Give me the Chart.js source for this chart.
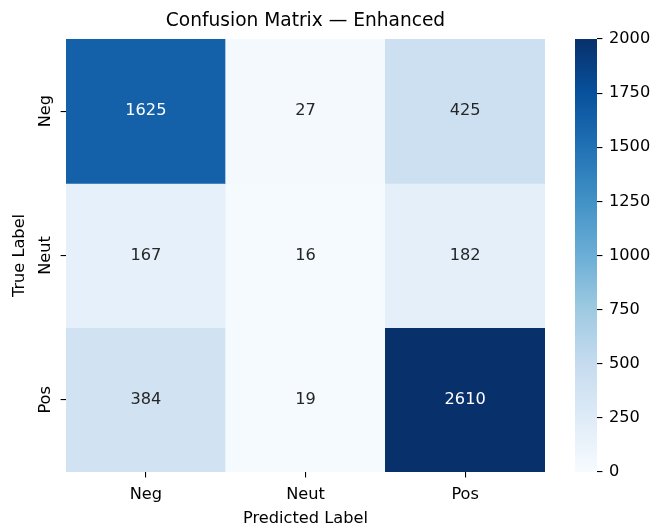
<!DOCTYPE html>
<html>
<head>
<meta charset="utf-8">
<script src="https://cdn.jsdelivr.net/npm/chart.js@4/dist/chart.umd.min.js"></script>
<style>
  html, body { margin: 0; padding: 0; background: #fff; }
  #c { display: block; }
</style>
</head>
<body>
<canvas id="c" width="657" height="525"></canvas>
<script>
// Confusion matrix counts, one array per true label (columns = predicted label)
const predictedLabels = ['Neg', 'Neut', 'Pos'];
const trueLabels = ['Neg', 'Neut', 'Pos'];
const rowNeg = [1625, 27, 425];
const rowNeut = [167, 16, 182];
const rowPos = [384, 19, 2610];
const colorMin = 0;
const colorMax = 2000;
const colorbarTicks = [0, 250, 500, 750, 1000, 1250, 1500, 1750, 2000];

const FONT = 'DejaVu Sans';
const TICK_SIZE = 16.2;
const TITLE_SIZE = 18.6;
const CB_WIDTH = 22;

// "Blues" sequential colormap anchors
const BLUES = [
  [247, 251, 255], [222, 235, 247], [198, 219, 239], [158, 202, 225],
  [107, 174, 214], [66, 146, 198], [33, 113, 181], [8, 81, 156], [8, 48, 107]
];
function bluesRGB(v) {
  let t = (v - colorMin) / (colorMax - colorMin);
  t = Math.max(0, Math.min(1, t));
  const p = t * (BLUES.length - 1);
  const i = Math.min(Math.floor(p), BLUES.length - 2);
  const f = p - i;
  return BLUES[i].map((a, k) => Math.round(a + (BLUES[i + 1][k] - a) * f));
}
function blues(v) {
  const c = bluesRGB(v);
  return `rgb(${c[0]},${c[1]},${c[2]})`;
}
function textColorFor(v) {
  const lin = bluesRGB(v).map(x => {
    x /= 255;
    return x <= 0.03928 ? x / 12.92 : Math.pow((x + 0.055) / 1.055, 2.4);
  });
  const lum = 0.2126 * lin[0] + 0.7152 * lin[1] + 0.0722 * lin[2];
  return lum > 0.408 ? '#262626' : '#ffffff';
}

const rows = [rowNeg, rowNeut, rowPos];

// each true-label row is one dataset of floating bars spanning its row band
const datasets = rows.map((vals, r) => ({
  label: trueLabels[r],
  data: vals.map(() => [r - 0.5, r + 0.5]),
  counts: vals,
  backgroundColor: vals.map(v => blues(v)),
  borderWidth: 0,
  grouped: false,
  barPercentage: 1,
  categoryPercentage: 1
}));

const tickGrid = { display: true, offset: false, drawOnChartArea: false, drawTicks: true, tickLength: 5.4, color: '#000', lineWidth: 1.1 };

const heatmapExtras = {
  id: 'heatmapExtras',
  afterDatasetsDraw(chart) {
    const { ctx } = chart;
    const xs = chart.scales.x, ys = chart.scales.y, cb = chart.scales.cb;

    // cell annotations
    ctx.save();
    ctx.font = `${TICK_SIZE}px "${FONT}"`;
    ctx.textAlign = 'center';
    ctx.textBaseline = 'middle';
    chart.data.datasets.forEach((ds, r) => {
      ds.counts.forEach((v, c) => {
        ctx.fillStyle = textColorFor(v);
        ctx.fillText(String(v), xs.getPixelForValue(c), ys.getPixelForValue(r));
      });
    });
    ctx.restore();

    // row labels, rotated to read upwards
    ctx.save();
    ctx.font = `${TICK_SIZE}px "${FONT}"`;
    ctx.fillStyle = '#000';
    ctx.textAlign = 'center';
    ctx.textBaseline = 'alphabetic';
    ys.ticks.forEach(t => {
      ctx.save();
      ctx.translate(ys.right - 16, ys.getPixelForValue(t.value));
      ctx.rotate(-Math.PI / 2);
      ctx.fillText(trueLabels[t.value], 0, 0);
      ctx.restore();
    });
    ctx.restore();

    // colorbar strip, just inside the colorbar axis
    const top = cb.getPixelForValue(colorMax);
    const bottom = cb.getPixelForValue(colorMin);
    const grad = ctx.createLinearGradient(0, bottom, 0, top);
    BLUES.forEach((c, i) => grad.addColorStop(i / (BLUES.length - 1), `rgb(${c[0]},${c[1]},${c[2]})`));
    ctx.save();
    ctx.fillStyle = grad;
    ctx.fillRect(cb.left - CB_WIDTH, top, CB_WIDTH, bottom - top);
    ctx.restore();
  }
};

new Chart(document.getElementById('c'), {
  type: 'bar',
  data: { labels: predictedLabels, datasets },
  options: {
    responsive: false,
    animation: false,
    devicePixelRatio: 1,
    layout: { padding: 0 },
    plugins: {
      legend: { display: false },
      tooltip: { enabled: false },
      title: {
        display: true,
        text: 'Confusion Matrix \u2014 Enhanced',
        fullSize: false,
        color: '#000',
        font: { family: FONT, size: TITLE_SIZE, weight: 'normal', lineHeight: 1.2 },
        padding: { top: 10, bottom: 6.7 }
      }
    },
    scales: {
      x: {
        type: 'category',
        offset: true,
        grid: tickGrid,
        border: { display: false },
        ticks: { color: '#000', font: { family: FONT, size: TICK_SIZE }, padding: 7.3, maxRotation: 0 },
        title: {
          display: true, text: 'Predicted Label', color: '#000',
          font: { family: FONT, size: TICK_SIZE, lineHeight: 0.72 },
          padding: { top: 0, bottom: 0 }
        },
        afterFit: s => { s.height = 53; }
      },
      y: {
        type: 'linear',
        reverse: true,
        min: -0.5,
        max: 2.5,
        afterBuildTicks: s => { s.ticks = trueLabels.map((_, i) => ({ value: i })); },
        grid: tickGrid,
        border: { display: false },
        ticks: { color: 'rgba(0,0,0,0)', font: { family: FONT, size: TICK_SIZE }, padding: 3, callback: v => trueLabels[v] },
        title: {
          display: true, text: 'True Label', color: '#000',
          font: { family: FONT, size: TICK_SIZE, lineHeight: 0.72 },
          padding: { top: 14.2, bottom: 0 }
        },
        afterFit: s => { s.width = 66; }
      },
      // empty spacer between the matrix and the colorbar
      gap: {
        type: 'linear',
        position: 'right',
        weight: 0,
        min: 0,
        max: 1,
        grid: { display: false, drawTicks: false },
        border: { display: false },
        ticks: { display: false },
        afterFit: s => { s.width = 52; }
      },
      cb: {
        type: 'linear',
        position: 'right',
        weight: 1,
        min: colorMin,
        max: colorMax,
        afterBuildTicks: s => { s.ticks = colorbarTicks.map(v => ({ value: v })); },
        grid: tickGrid,
        border: { display: false },
        ticks: { color: '#000', font: { family: FONT, size: TICK_SIZE }, padding: 6.6, callback: v => String(v) },
        afterFit: s => { s.width = 60; }
      }
    }
  },
  plugins: [heatmapExtras]
});
</script>
</body>
</html>
